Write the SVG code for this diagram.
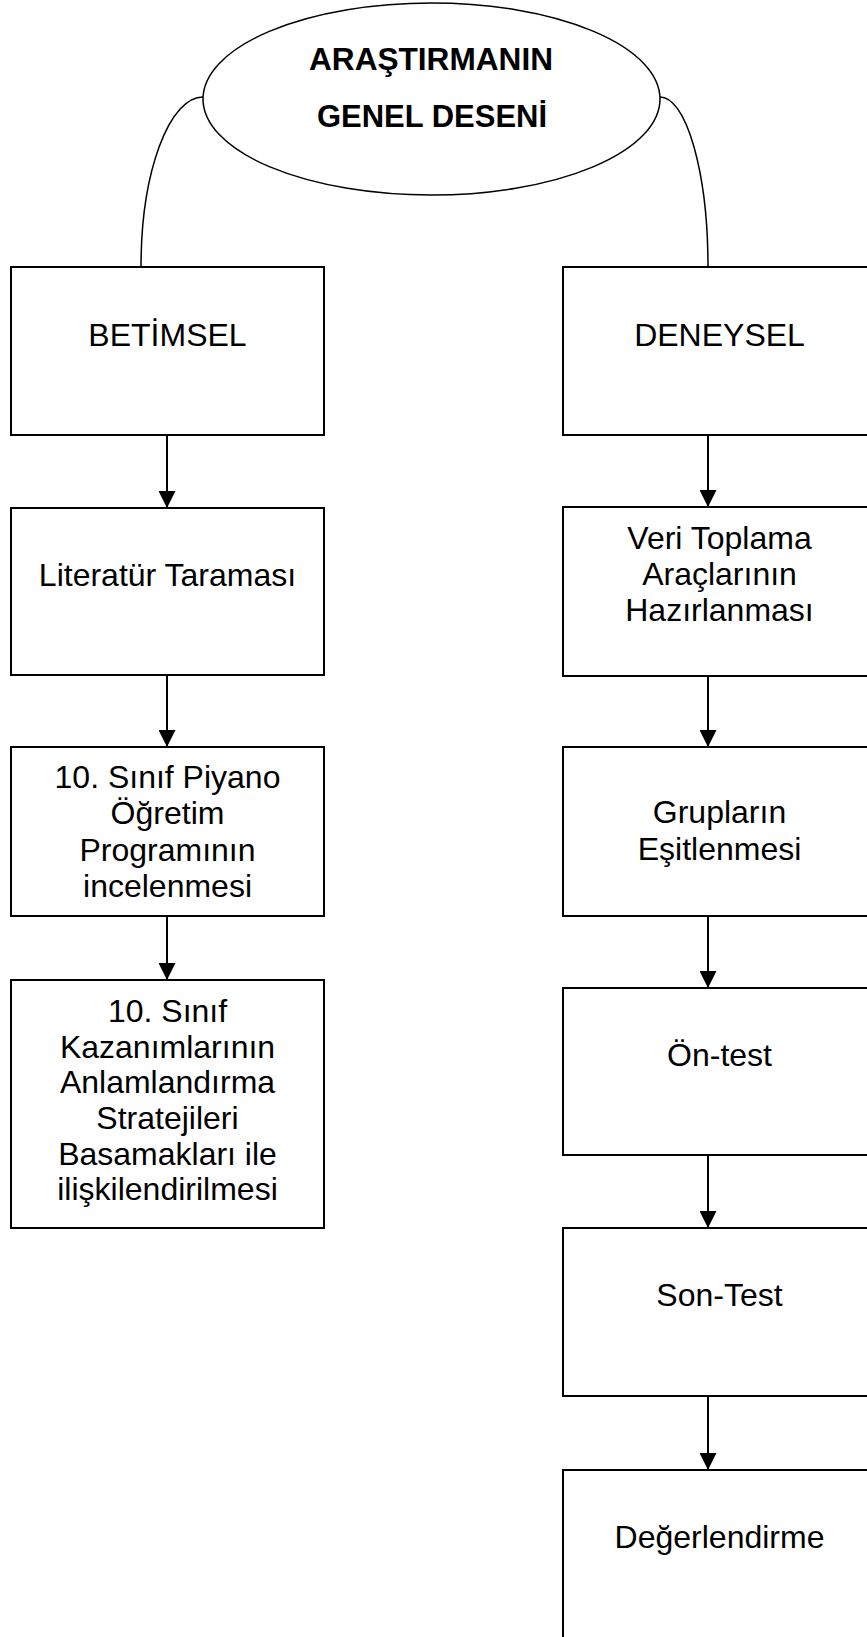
<svg xmlns="http://www.w3.org/2000/svg" width="867" height="1637" viewBox="0 0 867 1637">
<style>
.box{fill:#fff;stroke:#000;stroke-width:2}
.t{font-family:"Liberation Sans",Arial,sans-serif;font-size:32px;fill:#000;text-anchor:middle}
.h{font-family:"Liberation Sans",Arial,sans-serif;font-size:32px;font-weight:bold;fill:#000;text-anchor:middle}
.ln{fill:none;stroke:#000;stroke-width:2}
.cv{fill:none;stroke:#000;stroke-width:1.5}
</style>
<defs>
<marker id="ah" viewBox="0 0 16 16" refX="16" refY="8" markerWidth="17" markerHeight="17" markerUnits="userSpaceOnUse" orient="auto">
<path d="M0,0 L16,8 L0,16 z" fill="#000"/>
</marker>
</defs>
<rect width="867" height="1637" fill="#fff"/>
<g id="connectors">
<path class="cv" d="M203 97 A62 170 0 0 0 141 267"/>
<path class="cv" d="M660 97 A48 170 0 0 1 708 267"/>
<line class="ln" x1="167" y1="435" x2="167" y2="508" marker-end="url(#ah)"/>
<line class="ln" x1="167" y1="675" x2="167" y2="747" marker-end="url(#ah)"/>
<line class="ln" x1="167" y1="916" x2="167" y2="980" marker-end="url(#ah)"/>
<line class="ln" x1="708" y1="435" x2="708" y2="507" marker-end="url(#ah)"/>
<line class="ln" x1="708" y1="676" x2="708" y2="747" marker-end="url(#ah)"/>
<line class="ln" x1="708" y1="916" x2="708" y2="988" marker-end="url(#ah)"/>
<line class="ln" x1="708" y1="1155" x2="708" y2="1228" marker-end="url(#ah)"/>
<line class="ln" x1="708" y1="1396" x2="708" y2="1470" marker-end="url(#ah)"/>
</g>
<g id="root">
<ellipse cx="431.5" cy="99" rx="228.5" ry="96" fill="#fff" stroke="#000" stroke-width="1.5"/>
<text class="h" x="431" y="70" textLength="244" lengthAdjust="spacingAndGlyphs">ARAŞTIRMANIN</text>
<text class="h" x="432" y="127" textLength="230" lengthAdjust="spacingAndGlyphs">GENEL DESENİ</text>
</g>
<g id="betimsel">
<rect class="box" x="11" y="267" width="313" height="168"/>
<text class="t" x="167.5" y="346">BETİMSEL</text>
</g>
<g id="literatur">
<rect class="box" x="11" y="508" width="313" height="167"/>
<text class="t" x="167.5" y="586">Literatür Taraması</text>
</g>
<g id="program">
<rect class="box" x="11" y="747" width="313" height="169"/>
<text class="t" x="167.5" y="788">10. Sınıf Piyano</text>
<text class="t" x="167.5" y="824">Öğretim</text>
<text class="t" x="167.5" y="861">Programının</text>
<text class="t" x="167.5" y="897">incelenmesi</text>
</g>
<g id="kazanim">
<rect class="box" x="11" y="980" width="313" height="248"/>
<text class="t" x="167.5" y="1022">10. Sınıf</text>
<text class="t" x="167.5" y="1058">Kazanımlarının</text>
<text class="t" x="167.5" y="1093">Anlamlandırma</text>
<text class="t" x="167.5" y="1129">Stratejileri</text>
<text class="t" x="167.5" y="1165">Basamakları ile</text>
<text class="t" x="167.5" y="1200">ilişkilendirilmesi</text>
</g>
<g id="deneysel">
<rect class="box" x="563" y="267" width="313" height="168"/>
<text class="t" x="719.5" y="346">DENEYSEL</text>
</g>
<g id="veri">
<rect class="box" x="563" y="507" width="313" height="169"/>
<text class="t" x="719.5" y="549">Veri Toplama</text>
<text class="t" x="719.5" y="585">Araçlarının</text>
<text class="t" x="719.5" y="621">Hazırlanması</text>
</g>
<g id="gruplar">
<rect class="box" x="563" y="747" width="313" height="169"/>
<text class="t" x="719.5" y="823">Grupların</text>
<text class="t" x="719.5" y="860">Eşitlenmesi</text>
</g>
<g id="ontest">
<rect class="box" x="563" y="988" width="313" height="167"/>
<text class="t" x="719.5" y="1066">Ön-test</text>
</g>
<g id="sontest">
<rect class="box" x="563" y="1228" width="313" height="168"/>
<text class="t" x="719.5" y="1306">Son-Test</text>
</g>
<g id="degerlendirme">
<rect class="box" x="563" y="1470" width="313" height="200"/>
<text class="t" x="719.5" y="1548">Değerlendirme</text>
</g>
</svg>
